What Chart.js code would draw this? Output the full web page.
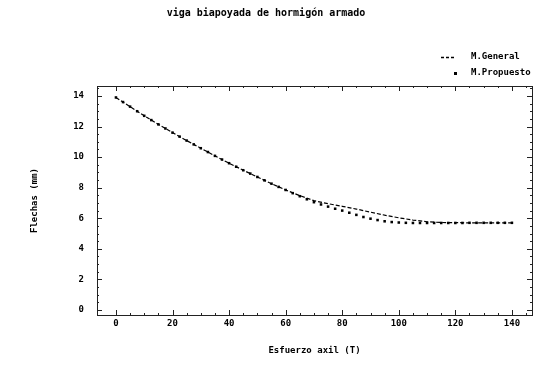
<!DOCTYPE html>
<html>
<head>
<meta charset="utf-8">
<script src="https://cdn.jsdelivr.net/npm/chart.js@4"></script>
<style>
  html, body { margin: 0; padding: 0; background: #fff; }
  #wrap { width: 550px; height: 381px; }
</style>
</head>
<body>
<div id="wrap"><canvas id="myChart"></canvas></div>
<script>
// esfuerzo axil (T) for the propuesto method
var axilP = [0, 2.5, 5, 7.5, 10, 12.5, 15, 17.5, 20, 22.5, 25, 27.5, 30, 32.5, 35, 37.5,
  40, 42.5, 45, 47.5, 50, 52.5, 55, 57.5, 60, 62.5, 65, 67.5, 70, 72.5, 75, 77.5,
  80, 82.5, 85, 87.5, 90, 92.5, 95, 97.5, 100, 102.5, 105, 107.5, 110, 112.5, 115, 117.5,
  120, 122.5, 125, 127.5, 130, 132.5, 135, 137.5, 140];
var flechaP = [13.9, 13.6, 13.3, 13.0, 12.7, 12.42, 12.14, 11.87, 11.6, 11.34, 11.08, 10.83, 10.58, 10.33, 10.08, 9.84,
  9.6, 9.37, 9.14, 8.92, 8.7, 8.48, 8.26, 8.05, 7.85, 7.64, 7.44, 7.24, 7.05, 6.9, 6.76, 6.62,
  6.5, 6.36, 6.22, 6.08, 5.97, 5.88, 5.8, 5.75, 5.72, 5.7, 5.69, 5.69, 5.69, 5.69, 5.69, 5.69,
  5.69, 5.69, 5.7, 5.7, 5.7, 5.7, 5.7, 5.7, 5.7];

// metodo general
var axilG = [0, 5, 10, 15, 20, 25, 30, 35, 40, 45, 50, 55, 60, 65, 70, 75, 80, 85, 90, 95,
  100, 105, 110, 115, 120, 125, 130, 135, 140];
var flechaG = [13.9, 13.3, 12.7, 12.14, 11.6, 11.08, 10.58, 10.08, 9.6, 9.14, 8.7, 8.26, 7.85, 7.48, 7.15, 6.95,
  6.78, 6.6, 6.4, 6.2, 6.03, 5.88, 5.77, 5.72, 5.71, 5.7, 5.7, 5.7, 5.7];

var xTicks = [0, 20, 40, 60, 80, 100, 120, 140];
var yTicks = [0, 2, 4, 6, 8, 10, 12, 14];

var FONT = "'DejaVu Sans Mono', monospace";

function pts(xs, ys) {
  return xs.map(function (x, i) { return { x: x, y: ys[i] }; });
}

// box around the plot with inward tick marks on all four sides
var framePlugin = {
  id: 'frame',
  afterDatasetsDraw: function (chart) {
    var ctx = chart.ctx, a = chart.chartArea;
    var sx = chart.scales.x, sy = chart.scales.y;
    ctx.save();
    ctx.strokeStyle = '#222';
    ctx.lineWidth = 1;
    ctx.strokeRect(Math.round(a.left) + 0.5, Math.round(a.top) + 0.5,
      Math.round(a.right - a.left), Math.round(a.bottom - a.top));
    ctx.beginPath();
    for (var v = 0; v <= 145; v += 5) {
      var px = Math.round(sx.getPixelForValue(v)) + 0.5;
      var len = (v % 20 === 0) ? 5 : 2;
      ctx.moveTo(px, a.bottom); ctx.lineTo(px, a.bottom - len);
      ctx.moveTo(px, a.top); ctx.lineTo(px, a.top + len);
    }
    for (var w = 0; w <= 14.5; w += 0.5) {
      var py = Math.round(sy.getPixelForValue(w)) + 0.5;
      var l2 = (w % 2 === 0) ? 5 : 2;
      ctx.moveTo(a.left, py); ctx.lineTo(a.left + l2, py);
      ctx.moveTo(a.right, py); ctx.lineTo(a.right - l2, py);
    }
    ctx.stroke();
    ctx.restore();
  }
};

// two-line legend in the upper right corner
var legendPlugin = {
  id: 'legendBox',
  afterDraw: function (chart) {
    var ctx = chart.ctx;
    var ds = chart.data.datasets;
    ctx.save();
    ctx.font = 'bold 9px ' + FONT;
    ctx.fillStyle = '#000';
    ctx.textBaseline = 'middle';
    ctx.fillText(ds[0].label, 471, 57);
    ctx.fillText(ds[1].label, 471, 73);
    ctx.strokeStyle = '#000';
    ctx.lineWidth = 1.3;
    ctx.setLineDash([3, 2]);
    ctx.beginPath();
    ctx.moveTo(441, 57.5); ctx.lineTo(456, 57.5);
    ctx.stroke();
    ctx.setLineDash([]);
    ctx.fillRect(454, 72, 3, 3);
    ctx.restore();
  }
};

const data = {
  datasets: [{
    label: 'M.General',
    data: pts(axilG, flechaG),
    showLine: true,
    borderColor: '#000',
    borderWidth: 1.2,
    borderDash: [4, 2],
    pointRadius: 0,
    fill: false,
    tension: 0
  }, {
    label: 'M.Propuesto',
    data: pts(axilP, flechaP),
    showLine: false,
    pointStyle: 'rect',
    pointRadius: 1.8,
    backgroundColor: '#000',
    borderColor: '#000',
    borderWidth: 0
  }]
};

const config = {
  type: 'scatter',
  data: data,
  options: {
    responsive: true,
    maintainAspectRatio: false,
    animation: false,
    layout: { padding: { left: 0, right: 18, top: 0, bottom: 0 } },
    plugins: {
      legend: { display: false },
      tooltip: { enabled: false },
      title: {
        display: true,
        text: 'viga biapoyada de hormigón armado',
        color: '#000',
        font: { family: FONT, size: 10, weight: 'bold', lineHeight: 1.2 },
        padding: { top: 7, bottom: 67 }
      }
    },
    scales: {
      x: {
        type: 'linear',
        min: -6.7,
        max: 147.1,
        afterBuildTicks: function (s) { s.ticks = xTicks.map(function (v) { return { value: v }; }); },
        afterFit: function (s) { s.height = 66; },
        grid: { display: false, drawTicks: false },
        border: { display: false },
        ticks: { color: '#000', padding: 3, maxRotation: 0, font: { family: FONT, size: 9, weight: 'bold' } },
        title: {
          display: true,
          text: 'Esfuerzo axil (T)',
          color: '#000',
          font: { family: FONT, size: 9, weight: 'bold', lineHeight: 1.2 },
          padding: { top: 0, bottom: 25 }
        }
      },
      y: {
        type: 'linear',
        min: -0.33,
        max: 14.65,
        afterBuildTicks: function (s) { s.ticks = yTicks.map(function (v) { return { value: v }; }); },
        afterFit: function (s) { s.width = 97; },
        grid: { display: false, drawTicks: false },
        border: { display: false },
        ticks: { color: '#000', padding: 13, font: { family: FONT, size: 9, weight: 'bold' } },
        title: {
          display: true,
          text: 'Flechas (mm)',
          color: '#000',
          font: { family: FONT, size: 9, weight: 'bold', lineHeight: 1.2 },
          padding: { top: 29, bottom: 0 }
        }
      }
    }
  },
  plugins: [framePlugin, legendPlugin]
};

const myChart = new Chart(document.getElementById('myChart'), config);
</script>
</body>
</html>
